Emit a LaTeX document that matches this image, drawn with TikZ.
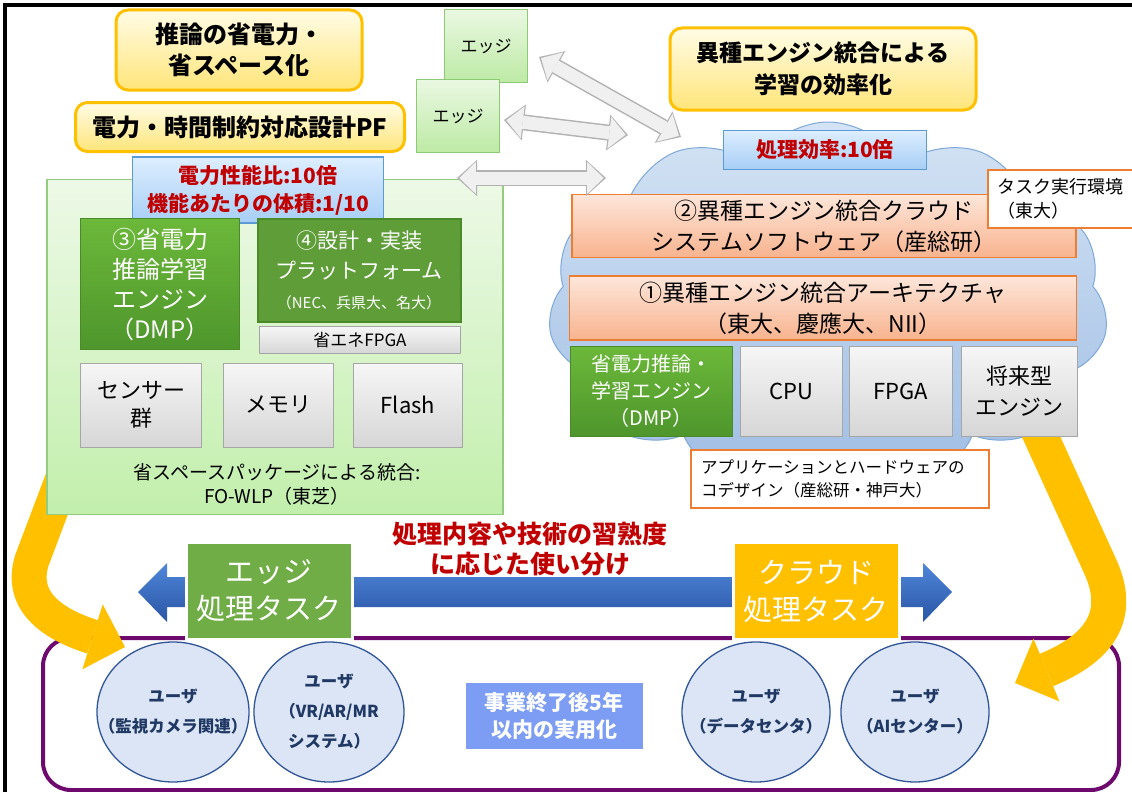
\documentclass[tikz,border=0pt]{standalone}
\usepackage{fontspec}
\setmainfont{Noto Sans CJK JP}
\usetikzlibrary{arrows.meta,shapes.geometric,shapes.symbols,positioning}

\definecolor{gold}{HTML}{FFC000}
\definecolor{yellowtop}{HTML}{FFFCE6}
\definecolor{yellowbot}{HTML}{FFE57A}
\definecolor{edgeline}{HTML}{8CCB73}
\definecolor{edgetop}{HTML}{EAF8E2}
\definecolor{edgebot}{HTML}{BDEAA5}
\definecolor{panelline}{HTML}{93CC7E}
\definecolor{paneltop}{HTML}{EDF9E7}
\definecolor{panelbot}{HTML}{C2EFAC}
\definecolor{blueline}{HTML}{5B9BD5}
\definecolor{bluetop}{HTML}{DDEEFF}
\definecolor{bluebot}{HTML}{A7CEF6}
\definecolor{darkred}{HTML}{C00000}
\definecolor{greenline}{HTML}{4A8A28}
\definecolor{greentop}{HTML}{6CB83A}
\definecolor{greenbot}{HTML}{4E962C}
\definecolor{greendark}{HTML}{5E9D38}
\definecolor{grayline}{HTML}{A6A6A6}
\definecolor{graytop}{HTML}{F6F6F6}
\definecolor{graybot}{HTML}{D6D6D6}
\definecolor{orangeline}{HTML}{ED7D31}
\definecolor{orangetop}{HTML}{FDE6DA}
\definecolor{orangebot}{HTML}{F8B38E}
\definecolor{cloudline}{HTML}{7EA8D8}
\definecolor{cloudtop}{HTML}{D4E3F4}
\definecolor{cloudbot}{HTML}{9EBDE4}
\definecolor{taskgreen}{HTML}{70AD47}
\definecolor{arrowtop}{HTML}{4F86D8}
\definecolor{arrowbot}{HTML}{2A55A6}
\definecolor{purpleline}{HTML}{6E0A6E}
\definecolor{userline}{HTML}{2F5597}
\definecolor{userfill}{HTML}{DCE5F5}
\definecolor{navy}{HTML}{1F3864}
\definecolor{goalblue}{HTML}{7C9DF3}

\newcommand\fsz[2]{\fontsize{#1}{#2}\selectfont}

\tikzset{
  base/.style={inner sep=0pt, align=center},
  yellowbox/.style={base, draw=gold, line width=3pt, rounded corners=12pt,
    top color=yellowtop, bottom color=yellowbot, font=\fsz{24}{31}\bfseries},
  edgebox/.style={base, draw=edgeline, line width=1pt, top color=edgetop,
    bottom color=edgebot, minimum width=83pt, minimum height=73pt, font=\fsz{17}{20}},
  panelbox/.style={draw=panelline, line width=1.2pt, top color=paneltop, bottom color=panelbot},
  bluebox/.style={base, draw=blueline, line width=1.2pt, top color=bluetop,
    bottom color=bluebot, text=darkred, font=\fsz{21}{28}\bfseries},
  greenbox/.style={base, draw=greenline, line width=1pt, top color=greentop,
    bottom color=greenbot, text=white},
  graybox/.style={base, draw=grayline, line width=1pt, top color=graytop, bottom color=graybot},
  orangebox/.style={base, draw=orangeline, line width=1.5pt, top color=orangetop,
    bottom color=orangebot, font=\fsz{23}{31}},
  notebox/.style={inner ysep=0pt, align=left, draw=orangeline, line width=2.5pt, fill=white},
  cloudbg/.style={cloud, cloud puffs=11, cloud puff arc=115, aspect=1.5, draw=cloudline,
    line width=1pt, top color=cloudtop, bottom color=cloudbot,
    minimum width=560pt, minimum height=372pt},
  taskbox/.style={base, draw=white, line width=3pt, text=white, font=\fsz{29}{37},
    minimum width=166pt, minimum height=97pt},
  user/.style={ellipse, draw=userline, line width=1.3pt, fill=userfill,
    inner xsep=-30pt, inner ysep=0pt, minimum width=150pt, minimum height=140pt,
    align=center, text=navy, font=\fsz{16.5}{30}\bfseries},
  goldarrow/.style={draw=gold, line width=35pt, -{Triangle[length=34pt,width=68pt,line width=0pt]}},
  grayout/.style={draw=gray!60, line width=16pt,
    {Triangle[length=20pt,width=36pt,line width=0pt]}-{Triangle[length=20pt,width=36pt,line width=0pt]}},
  grayin/.style={draw=gray!12, line width=13pt, shorten <=2.3pt, shorten >=2.3pt,
    {Triangle[length=16.5pt,width=32pt,line width=0pt]}-{Triangle[length=16.5pt,width=32pt,line width=0pt]}}
}

\begin{document}
\begin{tikzpicture}[x=1pt,y=-1pt]
  \useasboundingbox (0,0) rectangle (1132,792);
  % outer frame
  \draw[line width=4pt] (1132,5) -- (5,5) -- (5,792);

  % cloud side
  \node[cloudbg] (cloud) at (828,308) {};

  % users area
  \node[draw=purpleline, line width=4pt, rounded corners=28pt, minimum width=1076pt,
    minimum height=152pt] (users) at (581,714) {};

  % gold arrows
  \coordinate (goldL) at (66,470);
  \coordinate (tipL) at (125,647);
  \coordinate (goldR) at (1038,430);
  \coordinate (tipR) at (1015,683);
  \draw[goldarrow] (goldL) -- (32,560) .. controls (18,604) and (58,626) .. (tipL);
  \draw[goldarrow] (goldR) -- (1100,566) .. controls (1126,622) and (1090,652) .. (tipR);

  % edge side
  \node[yellowbox, minimum width=246pt, minimum height=80pt] (goalA) at (239,50) {推論の省電力・\\省スペース化};
  \node[yellowbox, minimum width=329pt, minimum height=49pt] (goalB) at (240,127) {電力・時間制約対応設計PF};
  \node[edgebox] (edgeA) at (486,46) {エッジ};
  \node[edgebox] (edgeB) at (458,116) {エッジ};

  \node[panelbox, minimum width=456pt, minimum height=335pt] (panel) at (275,347) {};
  \node[bluebox, minimum width=251pt, minimum height=66pt] (ratioA) at (258,190) {電力性能比:10倍\\機能あたりの体積:1/10};
  \node[greenbox, minimum width=159pt, minimum height=131pt, font=\fsz{24}{30}] (dmpA) at (160,284)
    {③省電力\\推論学習\\エンジン\\（DMP）};
  \node[greenbox, top color=greendark, bottom color=greendark, line width=2pt,
    minimum width=203pt, minimum height=103pt, font=\fsz{21}{30}] (design) at (359,270)
    {④設計・実装\\プラットフォーム\\{\fsz{15}{18}（NEC、兵県大、名大）}};
  \node[graybox, minimum width=201pt, minimum height=27pt, font=\fsz{17}{20}] (lowfpga) at (360,340) {省エネFPGA};
  \node[graybox, minimum width=121pt, minimum height=84pt, font=\fsz{22}{28}] (sensor) at (141,405) {センサー\\群};
  \node[graybox, minimum width=110pt, minimum height=84pt, font=\fsz{22}{28}] (memory) at (278,405) {メモリ};
  \node[graybox, minimum width=109pt, minimum height=84pt, font=\fsz{22}{28}] (flash) at (408,405) {Flash};
  \node[base, font=\fsz{19}{24}] (pkg) at (277,484) {省スペースパッケージによる統合:\\FO-WLP（東芝）};

  % cloud contents
  \node[yellowbox, minimum width=306pt, minimum height=82pt, font=\fsz{23}{32}\bfseries] (goalC) at (823,69)
    {異種エンジン統合による\\学習の効率化};
  \node[bluebox, minimum width=203pt, minimum height=39pt] (ratioB) at (825,150) {処理効率:10倍};
  \node[orangebox, minimum width=504pt, minimum height=63pt] (cloudsw) at (824,226)
    {②異種エンジン統合クラウド\\システムソフトウェア（産総研）};
  \node[notebox, inner xsep=9pt, text width=134pt, minimum height=58pt, font=\fsz{18}{24}] (taskenv) at (1064,199)
    {タスク実行環境\\（東大）};
  \node[orangebox, minimum width=507pt, minimum height=64pt] (arch) at (823,308)
    {①異種エンジン統合アーキテクチャ\\（東大、慶應大、NII）};
  \node[greenbox, minimum width=162pt, minimum height=90pt, font=\fsz{20}{27}] (dmpB) at (651,391)
    {省電力推論・\\学習エンジン\\（DMP）};
  \node[graybox, minimum width=102pt, minimum height=90pt, font=\fsz{22}{30}] (cpu) at (791,391) {CPU};
  \node[graybox, minimum width=103pt, minimum height=90pt, font=\fsz{22}{30}] (fpga) at (901,391) {FPGA};
  \node[graybox, minimum width=116pt, minimum height=90pt, font=\fsz{22}{31}] (future) at (1019,391) {将来型\\エンジン};
  \node[notebox, inner xsep=10pt, text width=278pt, minimum height=58pt, font=\fsz{16.5}{23}] (codesign) at (840,479)
    {アプリケーションとハードウェアの\\コデザイン（産総研・神戸大）};

  % links between edge and cloud
  \coordinate (lkA1) at (539,57);  \coordinate (lkA2) at (681,137);
  \coordinate (lkB1) at (504,120); \coordinate (lkB2) at (628,135);
  \coordinate (lkC1) at (457,178); \coordinate (lkC2) at (606,178);
  \foreach \a/\b in {lkA1/lkA2,lkB1/lkB2,lkC1/lkC2} {
    \draw[grayout] (\a) -- (\b);
    \draw[grayin] (\a) -- (\b);
  }

  % task split
  \shade[top color=arrowtop, bottom color=arrowbot] (138,592) -- (167,563) -- (167,577) -- (923,577)
    -- (923,563) -- (952,592) -- (923,622) -- (923,607) -- (167,607) -- (167,622) -- cycle;
  \node[base, text=darkred, font=\fsz{25}{30}\bfseries] (split) at (530,549) {処理内容や技術の習熟度\\に応じた使い分け};
  \node[taskbox, fill=taskgreen] (edgetask) at (269,591) {エッジ\\処理タスク};
  \node[taskbox, fill=gold] (cloudtask) at (816,591) {クラウド\\処理タスク};

  % users
  \node[user, minimum width=152pt] (userA) at (173,712) {ユーザ\\（監視カメラ関連）};
  \node[user] (userB) at (329,712) {ユーザ\\（VR/AR/MR\\システム）};
  \node[user, minimum width=148pt] (userC) at (756,712) {ユーザ\\（データセンタ）};
  \node[user, minimum width=148pt] (userD) at (915,712) {ユーザ\\（AIセンター）};
  \node[base, fill=goalblue, text=white, minimum width=177pt, minimum height=66pt,
    font=\fsz{21}{27}\bfseries] (goal) at (554,716) {事業終了後5年\\以内の実用化};
\end{tikzpicture}
\end{document}
